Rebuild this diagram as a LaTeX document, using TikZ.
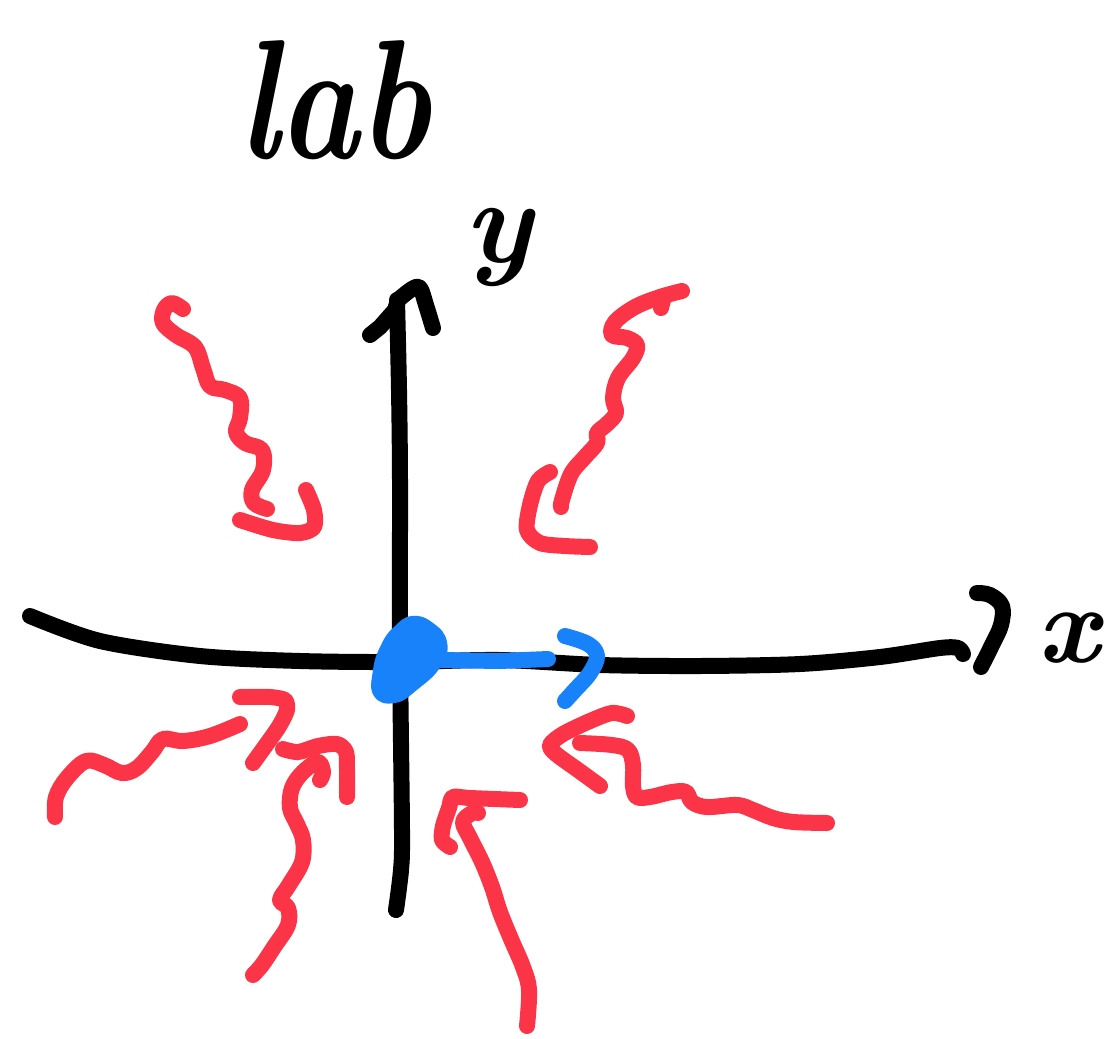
\documentclass[tikz,border=0pt]{standalone}
\usepackage{fontspec}
\definecolor{penred}{RGB}{252,52,72}
\definecolor{penblue}{RGB}{24,130,250}
\begin{document}
\begin{tikzpicture}[x=1pt,y=-1pt,
  pen/.style={line width=16pt,line cap=round,line join=round},
  blackpen/.style={pen,draw=black},
  redpen/.style={pen,draw=penred},
  bluepen/.style={pen,draw=penblue},
  label/.style={inner sep=0pt,text=black,font=\fontsize{#1}{#1}\selectfont\bfseries\itshape}]
\useasboundingbox (0,0) rectangle (1112,1039);

% title and axis names
\node[label=170,anchor=base west,xscale=0.8] (title) at (238,158) {lab};
\node[label=120,anchor=base] (ylab) at (498,262) {y};
\node[label=110,anchor=base] (xlab) at (1068,662) {x};

% vertical axis with its head
\draw[blackpen] plot[smooth,tension=0.5] coordinates {(396,910) (401,870) (402,830) (400,650) (400,480) (399,390) (397,300)};
\draw[blackpen] (370,335) -- (380,327) -- (395,310) -- (398,300);
\draw[blackpen] plot[smooth,tension=0.6] coordinates {(398,300) (412,289) (420,288) (426,305) (433,328)};

% horizontal axis with its head
\draw[blackpen] plot[smooth,tension=0.5] coordinates {(30,616) (100,641) (200,656) (300,661) (400,662) (500,660) (600,665) (700,666) (800,664) (880,657) (940,648) (958,648) (963,654)};
\draw[blackpen] plot[smooth,tension=0.6] coordinates {(977,593) (990,595) (1002,606) (1001,625) (992,645) (981,667)};

% blue vector at the origin
\fill[penblue] plot[smooth cycle,tension=0.8] coordinates {(412,616) (433,623) (447,642) (441,666) (418,689) (395,703) (374,696) (373,670) (381,645) (394,627)};
\draw[bluepen] (440,660) -- (500,661) -- (548,659);
\draw[bluepen] plot[smooth,tension=0.6] coordinates {(565,636) (588,644) (597,656) (590,673) (575,690) (565,701)};

% red wavy arrows
\draw[redpen] plot[smooth,tension=0.6] coordinates {(183,309) (172,303) (164,310) (163,323) (176,335) (195,347) (203,368) (210,386) (225,390) (240,398) (240,418) (236,432) (245,443) (262,450) (263,470) (252,490) (254,503) (267,509)};
\draw[redpen] plot[smooth,tension=0.5] coordinates {(240,520) (273,530) (300,533) (314,527) (314,510) (306,490)};

\draw[redpen] plot[smooth,tension=0.6] coordinates {(682,291) (660,297) (635,307) (615,322) (612,335) (627,338) (637,345) (633,358) (618,378) (613,398) (616,413) (607,424) (597,433) (597,443) (584,458) (571,474) (562,500) (561,507)};
\draw[redpen] (664,296) -- (661,308);
\draw[redpen] plot[smooth,tension=0.5] coordinates {(550,472) (538,481) (530,505) (527,530) (540,543) (565,546) (590,547)};

\draw[redpen] plot[smooth,tension=0.6] coordinates {(55,817) (56,797) (67,778) (86,761) (104,765) (122,773) (137,768) (152,752) (163,739) (183,741) (210,736) (240,724)};
\draw[redpen] plot[smooth,tension=0.4] coordinates {(240,697) (270,697) (285,700) (287,710) (278,728) (253,763)};

\draw[redpen] plot[smooth,tension=0.6] coordinates {(253,975) (262,965) (274,947) (288,925) (288,908) (280,900) (289,885) (302,862) (303,840) (297,824) (290,808) (292,788) (303,772) (318,762) (323,772) (320,780)};
\draw[redpen] plot[smooth,tension=0.5] coordinates {(283,749) (298,752) (318,746) (337,744) (346,752) (347,770) (347,797)};

\draw[redpen] plot[smooth,tension=0.6] coordinates {(527,1026) (529,990) (523,967) (511,939) (500,912) (492,887) (482,862) (470,838) (463,822) (472,813) (478,813)};
\draw[redpen] plot[smooth,tension=0.5] coordinates {(450,847) (442,840) (443,826) (449,808) (453,797) (470,798) (520,800)};

\draw[redpen] plot[smooth,tension=0.6] coordinates {(827,823) (794,822) (773,818) (753,810) (737,805) (707,807) (692,802) (686,792) (672,792) (650,797) (637,797) (633,786) (633,765) (628,750) (612,745) (580,743)};
\draw[redpen] plot[smooth,tension=0.5] coordinates {(627,716) (612,713) (590,721) (563,734) (550,745) (556,754) (578,770) (600,786)};
\end{tikzpicture}
\end{document}
